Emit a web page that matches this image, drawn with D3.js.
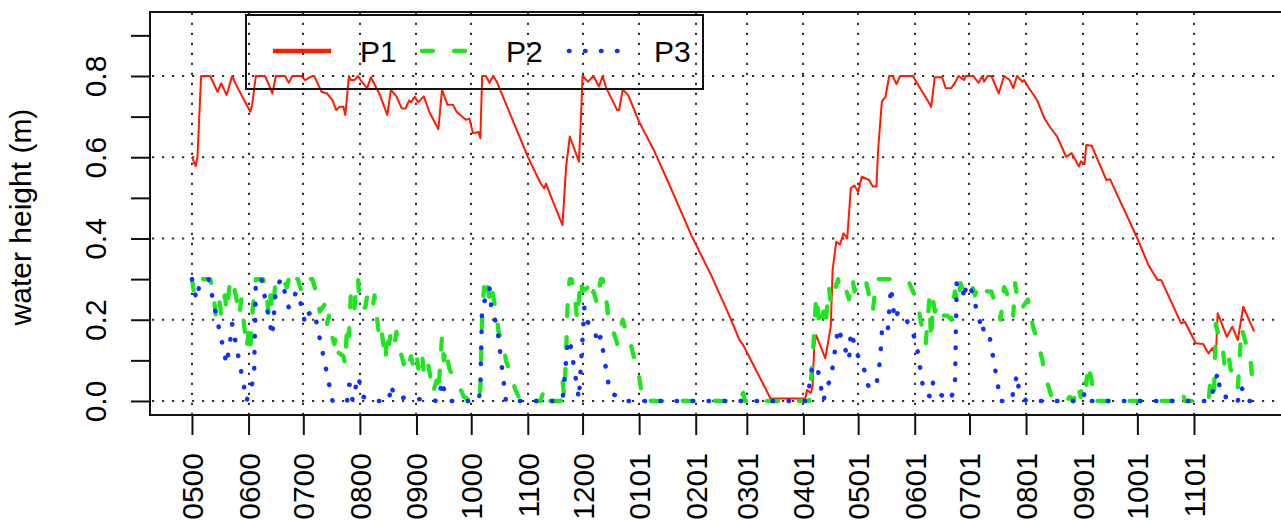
<!DOCTYPE html>
<html><head><meta charset="utf-8">
<script src="https://cdn.jsdelivr.net/npm/d3@7"></script>
<style>body{margin:0;background:#fff}svg{display:block}</style>
</head><body><svg id="c" width="1281" height="521"></svg>
<script>
// ---- data (day offset from 2000-05-01, water height in m) ----
const seriesNames = ["P1", "P2", "P3"];
const tickLabels = ["0500","0600","0700","0800","0900","1000","1100","1200","0101","0201","0301","0401","0501","0601","0701","0801","0901","1001","1101"];
const yTickValues = [0,0.1,0.2,0.3,0.4,0.5,0.6,0.7,0.8,0.9];
const yLabelled = [0,0.2,0.4,0.6,0.8];

const p1Days = [0,2,3,5,10,14,16,19,22,24,29,32,33,35,40,42,44,46,51,53,55,60,62,66,67,71,74,77,79,81,83,84,86,87,89,91,93,96,98,103,107,109,112,115,117,119,120,122,124,127,130,135,137,140,143,145,148,150,152,154,157,158,159,161,163,165,167,184,191,193,194,196,203,205,207,212,213,214,217,220,223,225,227,233,234,236,239,245,253,262,274,284,295,300,302,317,336,337,339,340,341,342,347,350,351,353,355,357,359,361,363,365,367,371,373,375,376,378,380,382,384,386,388,395,399,403,405,407,411,413,416,418,420,423,424,428,431,433,434,436,438,442,445,448,450,452,455,456,458,463,467,470,474,479,482,486,487,489,490,493,501,503,518,524,529,531,542,544,550,554,557,559,561,562,567,570,573,576,582];
const p1Vals = [0.60,0.578,0.60,0.80,0.80,0.761,0.782,0.753,0.80,0.78,0.737,0.712,0.73,0.80,0.80,0.78,0.757,0.80,0.80,0.783,0.80,0.80,0.79,0.80,0.80,0.761,0.757,0.74,0.716,0.724,0.724,0.704,0.80,0.79,0.79,0.80,0.786,0.77,0.797,0.753,0.704,0.766,0.75,0.72,0.72,0.74,0.735,0.749,0.735,0.75,0.712,0.669,0.766,0.729,0.729,0.712,0.70,0.692,0.695,0.659,0.662,0.647,0.80,0.80,0.783,0.80,0.786,0.601,0.536,0.523,0.535,0.511,0.433,0.577,0.651,0.589,0.683,0.80,0.786,0.80,0.774,0.80,0.77,0.716,0.716,0.767,0.753,0.687,0.618,0.528,0.404,0.314,0.204,0.15,0.138,0.006,0.006,0.027,0.02,0.035,0.138,0.162,0.105,0.183,0.322,0.392,0.385,0.413,0.40,0.524,0.53,0.515,0.552,0.544,0.528,0.528,0.622,0.737,0.749,0.80,0.80,0.78,0.80,0.80,0.77,0.74,0.724,0.797,0.797,0.77,0.77,0.783,0.80,0.79,0.80,0.80,0.783,0.80,0.786,0.80,0.80,0.757,0.80,0.79,0.77,0.80,0.786,0.79,0.774,0.741,0.696,0.675,0.651,0.601,0.61,0.577,0.59,0.583,0.63,0.628,0.544,0.546,0.40,0.335,0.298,0.298,0.191,0.195,0.142,0.14,0.117,0.13,0.113,0.216,0.158,0.183,0.15,0.232,0.171];

const p2Days = [0,1,2,10,12,13,15,16,18,19,21,22,24,26,27,29,30,31,32,33,34,35,39,41,42,43,44,46,50,52,53,55,56,58,60,62,66,69,70,73,74,75,76,78,79,80,83,84,85,86,87,89,90,91,92,95,96,97,99,100,101,102,103,104,106,107,108,109,111,112,113,115,116,117,119,120,121,123,124,126,127,129,131,132,134,135,137,138,139,141,143,147,149,153,157,158,159,160,161,162,163,164,165,167,168,171,172,175,177,180,189,191,193,195,202,203,204,205,206,207,208,210,211,212,213,214,217,218,220,222,224,225,227,228,231,233,236,238,241,243,245,246,247,300,302,303,336,338,339,340,341,342,343,344,346,347,349,350,354,355,358,360,362,363,366,369,372,373,375,379,385,387,391,393,396,398,400,402,404,405,406,407,410,412,414,416,418,420,421,423,427,429,431,435,438,440,442,443,445,447,449,450,451,452,454,455,458,459,461,463,466,467,469,471,474,479,481,483,485,487,488,490,491,493,494,542,543,544,557,558,560,561,563,565,566,568,569,571,573,574,575,577,578,580,581,582];
const p2Vals = [0.30,0.27,0.30,0.30,0.26,0.21,0.25,0.21,0.26,0.22,0.30,0.30,0.26,0.21,0.25,0.17,0.13,0.17,0.13,0.21,0.26,0.30,0.30,0.26,0.21,0.26,0.22,0.30,0.30,0.28,0.30,0.28,0.30,0.30,0.27,0.30,0.30,0.25,0.22,0.24,0.19,0.21,0.17,0.14,0.16,0.12,0.11,0.09,0.19,0.16,0.26,0.22,0.30,0.30,0.23,0.23,0.26,0.26,0.23,0.26,0.22,0.18,0.15,0.17,0.10,0.17,0.14,0.17,0.14,0.17,0.13,0.11,0.09,0.11,0.09,0.11,0.09,0.12,0.08,0.12,0.07,0.10,0.05,0.02,0.05,0.02,0.16,0.10,0.13,0.08,0.06,0.03,0.01,0,0,0.03,0.21,0.28,0.25,0.28,0.25,0.28,0.26,0.21,0.17,0.13,0.10,0.06,0.03,0,0,0,0.03,0,0,0.05,0.01,0.12,0.27,0.30,0.30,0.25,0.20,0.25,0.30,0.27,0.28,0.25,0.27,0.24,0.30,0.30,0.25,0.21,0.17,0.14,0.20,0.17,0.13,0.09,0.06,0.03,0,0,0.02,0,0,0,0.04,0.10,0.18,0.26,0.22,0.18,0.22,0.18,0.28,0.24,0.30,0.27,0.28,0.25,0.30,0.27,0.30,0.30,0.24,0.22,0.30,0.30,0.30,0.30,0.29,0.29,0.26,0.23,0.18,0.14,0.25,0.15,0.25,0.22,0.24,0.21,0.21,0.20,0.27,0.24,0.29,0.27,0.29,0.26,0.29,0.27,0.27,0.24,0.23,0.20,0.28,0.26,0.23,0.21,0.29,0.26,0.26,0.23,0.25,0.22,0.18,0.15,0.10,0.07,0.04,0.01,0,0,0.01,0,0.04,0.01,0.06,0.04,0.09,0.05,0,0,0.02,0,0,0.05,0.02,0.19,0.15,0.12,0.08,0.11,0.08,0.05,0.03,0.10,0.18,0.15,0.13,0.10,0.05,0.04];

const p3Days = [0,1,3,4,9,11,19,21,22,30,31,34,35,38,44,46,49,53,55,57,60,62,64,67,77,85,86,87,88,91,94,100,108,109,111,135,137,138,141,157,158,159,161,163,164,166,167,172,203,206,207,212,215,216,219,221,222,224,225,229,234,237,336,338,340,343,346,348,350,354,360,361,365,367,371,375,377,378,381,383,385,387,390,394,397,401,405,406,409,415,418,419,422,423,424,426,432,433,434,437,443,449,452,453,457,488,489,490,558,562,563,565,567,573,575,578,582];
const p3Vals = [0.30,0.27,0.25,0.29,0.30,0.26,0.09,0.15,0.19,0.00,0.02,0.055,0.30,0.30,0.16,0.28,0.30,0.23,0.24,0.27,0.235,0.19,0.215,0.22,0,0,0.04,0.04,0,0.06,0.01,0,0,0.04,0.01,0,0.05,0.03,0,0,0.03,0.24,0.25,0.28,0.23,0.20,0.19,0,0,0.15,0.15,0.005,0.23,0.20,0.18,0.17,0.14,0.16,0.13,0.02,0.01,0,0,0.03,0.09,0.075,0,0.04,0.05,0.18,0.10,0.17,0.11,0.10,0.03,0.04,0.10,0.17,0.16,0.28,0.20,0.22,0.21,0.18,0.14,0.02,0.01,0.045,0.02,0,0.03,0.29,0.29,0.25,0.28,0.29,0.19,0.20,0.16,0.16,0,0,0.065,0.03,0,0,0.02,0,0,0.07,0.035,0.035,0,0,0.035,0,0];

// ---- drawing ----
const FONT = "'Liberation Sans', Arial, Helvetica, sans-serif";
const svg = d3.select("#c");
svg.append("rect").attr("width",1281).attr("height",521).attr("fill","#fff");

const base = new Date(Date.UTC(2000,4,1));
const toDate = d => d3.utcDay.offset(base, d);
const x = d3.scaleUtc()
  .domain([new Date(Date.UTC(2000,3,8)), new Date(Date.UTC(2001,11,28))])
  .range([150,1298]);
const y = d3.scaleLinear().domain([-0.0345,0.9575]).range([415,12]);

const tickDates = d3.utcMonth.range(base, new Date(Date.UTC(2001,10,2)));

// grid
const grid = svg.append("g").attr("stroke","#333").attr("stroke-width",2).attr("stroke-dasharray","2.2,7.8");
grid.selectAll("line.v").data(tickDates).join("line")
  .attr("x1",d=>Math.round(x(d))).attr("x2",d=>Math.round(x(d))).attr("y1",y.range()[0]).attr("y2",y.range()[1]);
grid.selectAll("line.h").data(yLabelled).join("line")
  .attr("x1",152).attr("x2",1298).attr("y1",d=>y(d)).attr("y2",d=>y(d));

svg.append("defs").append("clipPath").attr("id","clip")
  .append("rect").attr("x",150).attr("y",12).attr("width",1148).attr("height",403);

const line = d3.line().x(d=>x(toDate(d[0]))).y(d=>y(d[1]));
const plot = svg.append("g").attr("clip-path","url(#clip)").attr("fill","none");
plot.append("path").datum(d3.zip(p1Days,p1Vals)).attr("d",line)
  .attr("stroke","#ff1a00").attr("stroke-width",2).attr("stroke-linejoin","round");
plot.append("path").datum(d3.zip(p2Days,p2Vals)).attr("d",line)
  .attr("stroke","#1ee61e").attr("stroke-width",4.3).attr("stroke-linecap","round")
  .attr("stroke-linejoin","round").attr("stroke-dasharray","11,21");
plot.append("path").datum(d3.zip(p3Days,p3Vals)).attr("d",line)
  .attr("stroke","#1030ff").attr("stroke-width",4.5).attr("stroke-linecap","round")
  .attr("stroke-linejoin","round").attr("stroke-dasharray","0.5,15.5");

// frame
svg.append("rect").attr("x",150).attr("y",12).attr("width",1148).attr("height",403)
  .attr("fill","none").attr("stroke","#111").attr("stroke-width",2);

// x axis
const xAxis = svg.append("g").attr("transform","translate(0,415)")
  .call(d3.axisBottom(x).tickValues(tickDates).tickSize(20).tickFormat((d,i)=>tickLabels[i]));
xAxis.select(".domain").remove();
xAxis.selectAll(".tick line").attr("stroke","#111").attr("stroke-width",2);
xAxis.selectAll(".tick text")
  .attr("font-family",FONT).attr("font-size",30).attr("fill","#000")
  .attr("text-anchor","end").attr("transform","translate(0,38) rotate(-90)")
  .attr("x",0).attr("y",0).attr("dy","0.35em");

// y axis
const yAxis = svg.append("g").attr("transform","translate(150,0)")
  .call(d3.axisLeft(y).tickValues(yTickValues).tickSize(19)
    .tickFormat(d=> yLabelled.some(v=>Math.abs(v-d)<1e-9) ? d3.format(".1f")(d) : ""));
yAxis.select(".domain").remove();
yAxis.selectAll(".tick line").attr("stroke","#111").attr("stroke-width",2);
yAxis.selectAll(".tick text")
  .attr("font-family",FONT).attr("font-size",30).attr("fill","#000")
  .attr("text-anchor","middle").attr("x",0).attr("y",0).attr("dy",0)
  .attr("transform","translate(-44,0) rotate(-90)");

// y title
svg.append("text").attr("transform","translate(31,217) rotate(-90)")
  .attr("text-anchor","middle").attr("font-family",FONT).attr("font-size",30)
  .text("water height (m)");

// legend
const lg = svg.append("g");
lg.append("rect").attr("x",246).attr("y",15).attr("width",457).attr("height",74)
  .attr("fill","none").attr("stroke","#111").attr("stroke-width",2);
const legendItems = [
  {name:seriesNames[0], x1:273, x2:331, tx:360, stroke:"#ff1a00", w:4.3, dash:null, cap:"butt"},
  {name:seriesNames[1], x1:422, x2:466, tx:506, stroke:"#1ee61e", w:4.3, dash:"11,21", cap:"round"},
  {name:seriesNames[2], x1:569, x2:618, tx:654, stroke:"#1030ff", w:4.5, dash:"0.5,15.5", cap:"round"}
];
legendItems.forEach(it=>{
  lg.append("line").attr("x1",it.x1).attr("x2",it.x2).attr("y1",51).attr("y2",51)
    .attr("stroke",it.stroke).attr("stroke-width",it.w).attr("stroke-linecap",it.cap)
    .attr("stroke-dasharray",it.dash);
  lg.append("text").attr("x",it.tx).attr("y",62).attr("font-family",FONT).attr("font-size",30)
    .attr("fill","#000").text(it.name);
});
</script></body></html>
